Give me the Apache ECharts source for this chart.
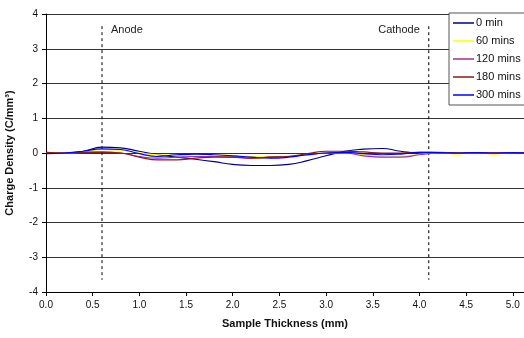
<!DOCTYPE html>
<html>
<head>
<meta charset="utf-8">
<script src="https://cdn.jsdelivr.net/npm/echarts@6/dist/echarts.min.js"></script>
<style>
  html, body { margin: 0; padding: 0; background: #fff; }
  #chart { width: 524px; height: 338px; }
</style>
</head>
<body>
<div id="chart"></div>
<script>
// sample thickness (mm)
var thickness = [0.0, 0.2, 0.4, 0.6, 0.8, 1.0, 1.2, 1.4, 1.6, 1.8, 2.0, 2.2, 2.4, 2.6,
  2.8, 3.0, 3.2, 3.4, 3.6, 3.8, 4.0, 4.2, 4.4, 4.6, 4.8, 5.0, 5.2];

// charge density (C/mm3) per ageing time
var min0 = [0.02, -0.01, 0.05, 0.17, 0.15, 0.05, -0.05, -0.12, -0.18, -0.25, -0.33, -0.36, -0.36, -0.33,
  -0.22, -0.08, 0.05, 0.11, 0.13, 0.05, 0.0, 0.0, 0.0, 0.01, 0.0, 0.0, 0.0];
var min60 = [0.0, 0.0, 0.03, 0.1, 0.08, 0.0, -0.05, -0.06, -0.05, -0.05, -0.07, -0.1, -0.1, -0.08,
  -0.05, 0.0, 0.0, -0.05, -0.12, -0.1, -0.04, 0.0, -0.03, 0.0, -0.03, 0.0, 0.0];
var min120 = [0.0, 0.0, 0.02, 0.03, 0.0, -0.1, -0.15, -0.12, -0.1, -0.1, -0.12, -0.15, -0.12, -0.1,
  -0.05, 0.0, 0.0, -0.08, -0.12, -0.12, -0.05, 0.0, 0.0, 0.0, 0.0, 0.0, 0.0];
var min180 = [0.02, 0.0, 0.01, 0.02, 0.0, -0.12, -0.2, -0.2, -0.15, -0.12, -0.12, -0.15, -0.12, -0.1,
  -0.02, 0.05, 0.05, 0.03, 0.0, 0.0, 0.02, 0.02, 0.0, 0.01, 0.0, 0.0, 0.0];
var min300 = [-0.02, 0.0, 0.05, 0.12, 0.1, -0.02, -0.1, -0.05, -0.03, -0.05, -0.08, -0.12, -0.15, -0.12,
  -0.05, 0.0, 0.02, -0.02, -0.05, -0.03, 0.02, 0.01, 0.0, 0.01, 0.0, 0.01, 0.0];

var seriesNames = ["0 min", "60 mins", "120 mins", "180 mins", "300 mins"];
var seriesColors = ["#000080", "#ffff00", "#993399", "#8b1a1a", "#0000ff"];

// electrode positions (mm)
var anodeX = 0.6;
var cathodeX = 4.1;
var markerTop = 3.65;
var markerBottom = -3.65;
var labelY = 3.55;

var font = "'Liberation Sans', Arial, sans-serif";

function pairs(ys) {
  var out = [];
  for (var i = 0; i < thickness.length; i++) {
    out.push([thickness[i], ys[i]]);
  }
  return out;
}

var allData = [min0, min60, min120, min180, min300];
var series = [];
for (var i = 0; i < allData.length; i++) {
  series.push({
    name: seriesNames[i],
    type: "line",
    smooth: true,
    symbol: "none",
    data: pairs(allData[i]),
    lineStyle: { color: seriesColors[i], width: 1.2 },
    itemStyle: { color: seriesColors[i] },
    z: 3
  });
}

function electrode(x, text) {
  return {
    name: text,
    type: "line",
    symbol: "none",
    silent: true,
    data: [[x, markerTop], [x, markerBottom]],
    lineStyle: { color: "#000", width: 1, type: [3, 3] },
    z: 2
  };
}
series.push(electrode(anodeX, "Anode"));
series.push(electrode(cathodeX, "Cathode"));

var chart = echarts.init(document.getElementById("chart"));
chart.setOption({
  animation: false,
  backgroundColor: "#fff",
  grid: {
    left: 46,
    right: 0,
    top: 14,
    bottom: 46,
    outerBoundsMode: "none"
  },
  legend: {
    data: seriesNames,
    orient: "vertical",
    left: 449,
    top: 13,
    icon: "rect",
    itemWidth: 21,
    itemHeight: 1.5,
    itemGap: 0,
    padding: [1, 20, 1, 4],
    backgroundColor: "#fff",
    borderColor: "#555",
    borderWidth: 1,
    borderRadius: 0,
    textStyle: { color: "#111", fontSize: 11, fontFamily: font, lineHeight: 18, padding: [0, 0, 0, -3] }
  },
  xAxis: {
    type: "value",
    min: 0,
    max: 5.12,
    interval: 0.5,
    name: "Sample Thickness (mm)",
    nameLocation: "middle",
    nameGap: 26,
    nameTextStyle: { color: "#111", fontSize: 11, fontWeight: "bold", fontFamily: font },
    axisLine: { onZero: false, lineStyle: { color: "#000", width: 1 } },
    axisTick: { show: true, length: 4, lineStyle: { color: "#000" } },
    axisLabel: {
      color: "#111",
      fontSize: 10,
      fontFamily: font,
      margin: 8,
      showMaxLabel: false,
      formatter: function (v) { return v.toFixed(1); }
    },
    splitLine: { show: false }
  },
  yAxis: {
    type: "value",
    min: -4,
    max: 4,
    interval: 1,
    name: "Charge Density (C/mm³)",
    nameLocation: "middle",
    nameGap: 31,
    nameTextStyle: { color: "#111", fontSize: 11, fontWeight: "bold", fontFamily: font },
    axisLine: { show: true, lineStyle: { color: "#000", width: 1 } },
    axisTick: { show: true, length: 4, lineStyle: { color: "#000" } },
    axisLabel: { color: "#111", fontSize: 10, fontFamily: font, margin: 8 },
    splitLine: { show: true, lineStyle: { color: "#333", width: 1 } }
  },
  series: series
});

// electrode labels beside the dashed lines
var pa = chart.convertToPixel({ gridIndex: 0 }, [anodeX, labelY]);
var pc = chart.convertToPixel({ gridIndex: 0 }, [cathodeX, labelY]);
chart.setOption({
  graphic: [
    {
      type: "text", x: pa[0] + 9, y: pa[1],
      style: { text: "Anode", fill: "#222", font: "11px " + font, textAlign: "left", textVerticalAlign: "middle" }
    },
    {
      type: "text", x: pc[0] - 9, y: pc[1],
      style: { text: "Cathode", fill: "#222", font: "11px " + font, textAlign: "right", textVerticalAlign: "middle" }
    }
  ]
});
</script>
</body>
</html>
